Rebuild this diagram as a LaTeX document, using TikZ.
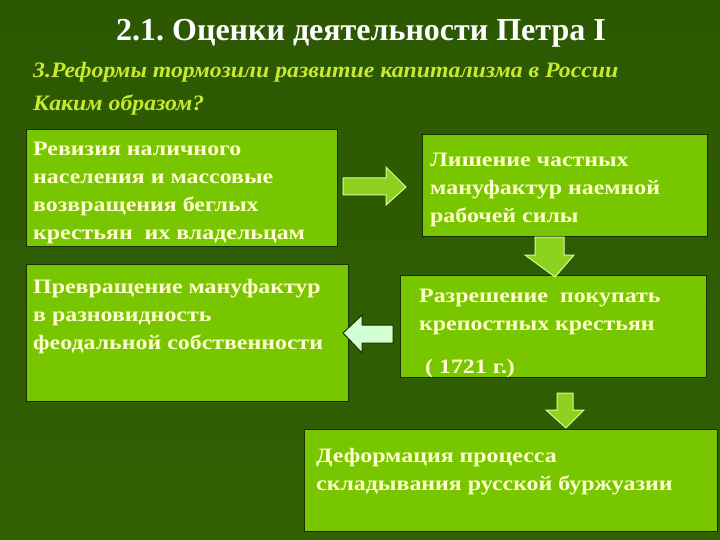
\documentclass[tikz,border=0pt]{standalone}
\usepackage{fontspec}
\setmainfont{Liberation Serif}
\frenchspacing
\newfontfamily\boxfont[FakeStretch=1.165]{Liberation Serif}
\newfontfamily\subfont[FakeStretch=1.08]{Liberation Serif}
\definecolor{bgtop}{RGB}{44,88,2}
\definecolor{bgbot}{RGB}{48,96,2}
\definecolor{boxfill}{RGB}{120,198,0}
\definecolor{boxline}{RGB}{22,48,0}
\definecolor{cream}{RGB}{255,255,205}
\definecolor{subcol}{RGB}{200,234,45}
\definecolor{arrfill}{RGB}{140,210,30}
\definecolor{arrline}{RGB}{215,250,160}
\definecolor{larrfill}{RGB}{210,255,210}
\tikzset{
  box/.style={draw=boxline, line width=1.2pt, fill=boxfill, inner sep=0pt, anchor=north west},
  boxtext/.style={anchor=north west, inner sep=0pt, align=left, text=cream,
    font=\boxfont\fontsize{20.5}{28}\selectfont\bfseries},
  subtext/.style={text=subcol, font=\subfont\fontsize{22}{26}\selectfont\bfseries\itshape, anchor=base west, inner sep=0pt},
  garrow/.style={fill=arrfill, draw=arrline, line width=1pt, line join=miter},
  larrow/.style={fill=larrfill, draw=boxline, line width=1pt, line join=miter}
}
\begin{document}
\begin{tikzpicture}[x=1pt,y=-1pt]
\shade[top color=bgtop, bottom color=bgbot] (0,0) rectangle (720,540);
\useasboundingbox (0,0) rectangle (720,540);

\node[text=white, font=\fontsize{32}{36}\selectfont\bfseries, anchor=base] (title) at (361,41) {2.1. Оценки деятельности Петра I};
\node[subtext] (sub) at (33,78) {3.Реформы тормозили развитие капитализма в России};
\node[subtext] (how) at (33,111) {Каким образом?};

% boxes
\node[box, minimum width=311pt, minimum height=117pt] (a) at (26,129) {};
\node[box, minimum width=322pt, minimum height=137pt] (b) at (26,264) {};
\node[box, minimum width=285pt, minimum height=102pt] (c) at (422,134) {};
\node[box, minimum width=306pt, minimum height=102pt] (d) at (400,275) {};
\node[box, minimum width=413pt, minimum height=102pt] (e) at (304,429) {};

% texts (first baseline = top + 19.6)
\node[boxtext] (at) at (33,135.4) {\strut Ревизия наличного\\населения и массовые\\возвращения беглых\\крестьян\ \ их владельцам};
\node[boxtext] (bt) at (33,273.4) {\strut Превращение мануфактур\\в разновидность\\феодальной собственности};
\node[boxtext] (ct) at (430,146.4) {\strut Лишение частных\\мануфактур наемной\\рабочей силы};
\node[boxtext] (dt) at (419,282.4) {\strut Разрешение\ \ покупать\\крепостных крестьян\\[15pt] \ ( 1721 г.)};
\node[boxtext] (et) at (316,442.4) {\strut Деформация процесса\\складывания русской буржуазии};

% right arrow a -> c
\draw[garrow] (343,178) -- (386,178) -- (386,167) -- (406,187) -- (386,205) -- (386,195) -- (343,195) -- cycle;
% down arrow c -> d
\draw[garrow] (535,237) -- (564,237) -- (564,255) -- (574,255) -- (555,277) -- (525,255) -- (535,255) -- cycle;
% left arrow d -> b
\draw[larrow] (393,325) -- (362,325) -- (362,315) -- (343,333) -- (362,353) -- (362,343) -- (393,343) -- cycle;
% down arrow d -> e
\draw[garrow] (557,393) -- (573,393) -- (573,410) -- (584,410) -- (566,428) -- (546,410) -- (557,410) -- cycle;
\end{tikzpicture}
\end{document}
